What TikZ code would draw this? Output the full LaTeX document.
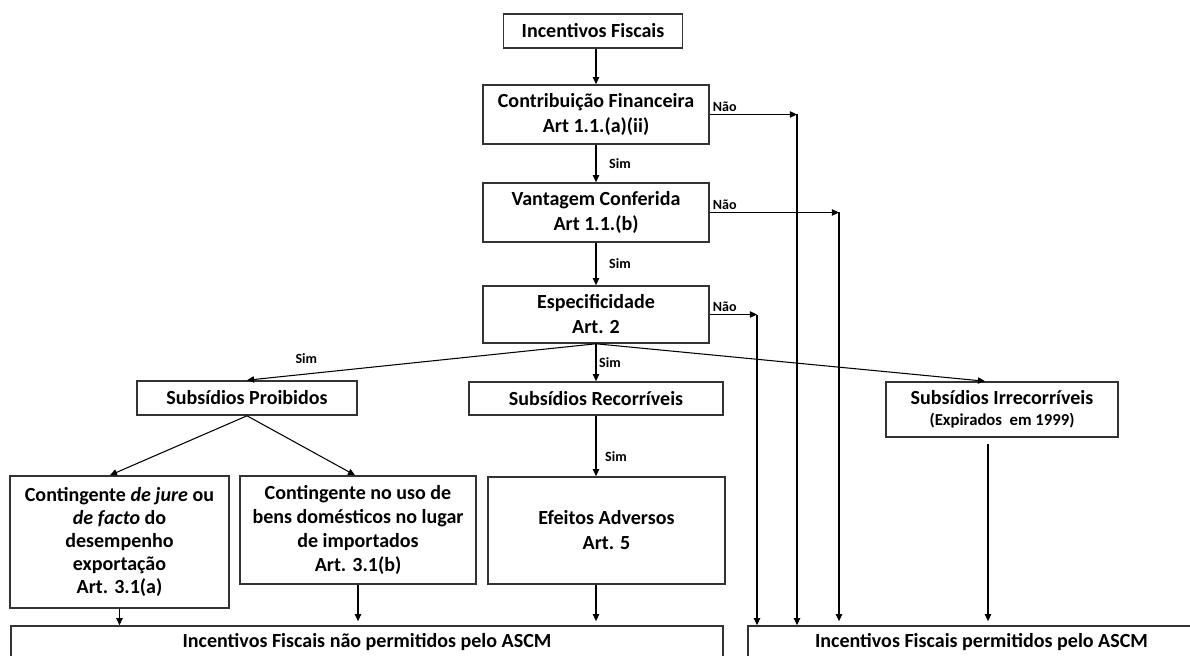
\documentclass[tikz,border=0pt]{standalone}
\usepackage{fontspec}
\setmainfont{Carlito}
\usetikzlibrary{arrows.meta}

\begin{document}
\begin{tikzpicture}[x=0.2mm, y=-0.2mm, line width=0.6pt,
  >={Triangle[length=4pt,width=3.6pt]},
  box/.style={draw=black!80, line width=0.9pt, inner sep=0pt, align=center,
    font=\fontsize{11.4}{14.2}\selectfont\bfseries},
  lbl/.style={font=\fontsize{8}{9}\selectfont\bfseries, inner sep=1.5pt}]
\clip (0,0) rectangle (1190,655);

% caixas do fluxo principal
\node[box, minimum width=35.8mm, minimum height=6.8mm] (fiscal) at (593,31) {Incentivos Fiscais};
\node[box, minimum width=45.2mm, minimum height=11.8mm] (contrib) at (596,114.5) {Contribuição Financeira\\Art 1.1.(a)(ii)};
\node[box, minimum width=45.2mm, minimum height=11.8mm] (vant) at (596,212.5) {Vantagem Conferida\\Art 1.1.(b)};
\node[box, minimum width=45.2mm, minimum height=11.4mm] (espec) at (596,314.5) {Especificidade\\Art. 2};

% tipos de subsidio
\node[box, minimum width=44mm, minimum height=6.8mm] (proib) at (247,398) {Subsídios Proibidos};
\node[box, minimum width=50.8mm, minimum height=6.6mm] (recorr) at (596,398.5) {Subsídios Recorríveis};
\node[box, minimum width=46.4mm, minimum height=11mm] (irrec) at (1002,409.5) {Subsídios Irrecorríveis\\[-2pt]{\fontsize{9.5}{11}\selectfont (Expirados\ \ em 1999)}};

\node[box, minimum width=43.8mm, minimum height=26.4mm, font=\fontsize{11.4}{13.2}\selectfont\bfseries] (jure) at (119.5,542) {Contingente \textit{de jure} ou\\\textit{de facto} do\\desempenho\\exportação\\Art. 3.1(a)};
\node[box, minimum width=47.2mm, minimum height=21.6mm, font=\fontsize{11.4}{13.6}\selectfont\bfseries] (uso) at (358,530) {Contingente no uso de\\bens domésticos no lugar\\de importados\\Art. 3.1(b)};
\node[box, minimum width=47.4mm, minimum height=21.4mm] (efeitos) at (606.5,530.5) {Efeitos Adversos\\Art. 5};

% resultados
\node[box, minimum width=142.4mm, minimum height=6.4mm] (naoperm) at (367,642) {Incentivos Fiscais não permitidos pelo ASCM};
\node[box, minimum width=93.4mm, minimum height=6.4mm] (perm) at (981.5,642) {Incentivos Fiscais permitidos pelo ASCM};

% linhas do Nao
\coordinate (nA) at (797,0);
\coordinate (nB) at (839,0);
\coordinate (nC) at (757,0);

\draw[->] (fiscal.south -| contrib.north) -- (contrib.north);
\draw[->] (contrib) -- node[lbl, right=2mm] {Sim} (vant);
\draw[->] (vant) -- node[lbl, right=2mm] {Sim} (espec);

\draw[->] (contrib.east) node[lbl, above right] {Não} -- (contrib.east -| nA);
\draw[->] (contrib.east -| nA) -- (nA |- perm.north);
\draw[->] (vant.east) node[lbl, above right] {Não} -- (vant.east -| nB);
\draw[->] (vant.east -| nB) -- ([yshift=0.8mm]nB |- perm.north);
\draw[->] (espec.east) node[lbl, above right] {Não} -- (espec.east -| nC);
\draw[->] (espec.east -| nC) -- (nC |- perm.north);

% ramos da especificidade
\draw[->] (espec.south) -- node[lbl, pos=.83, above=1.5mm] {Sim} (proib.north);
\draw[->] (espec.south) -- node[lbl, right=0pt] {Sim} (recorr.north);
\draw[->] (espec.south) -- ([xshift=-3.4mm]irrec.north);

\draw[->] (proib.south) -- ([xshift=-1.9mm]jure.north);
\draw[->] (proib.south) -- ([xshift=-0.6mm]uso.north);
\draw[->] (recorr.south) -- node[lbl, pos=.68, right=1.2mm] {Sim} (recorr.south |- efeitos.north);

% para os resultados
\draw[->] (jure.south) -- (jure.south |- naoperm.north);
\draw[->] (uso.south) -- ([yshift=0.8mm]uso.south |- naoperm.north);
\draw[->] (recorr |- efeitos.south) -- ([yshift=0.8mm]recorr |- naoperm.north);
\draw[->] ([xshift=-2.8mm,yshift=-1.2mm]irrec.south) -- ([xshift=-2.8mm,yshift=0.8mm]irrec.south |- perm.north);
\end{tikzpicture}
\end{document}
